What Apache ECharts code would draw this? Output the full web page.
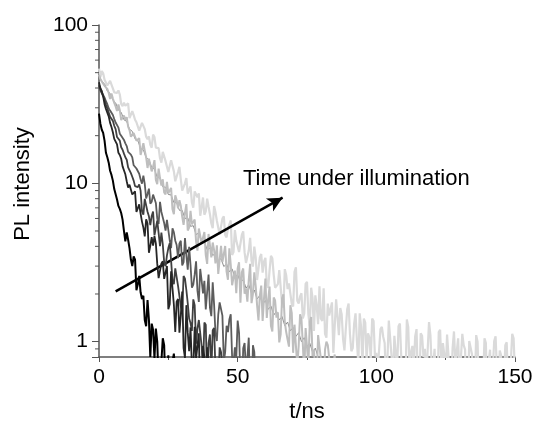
<!DOCTYPE html>
<html>
<head>
<meta charset="utf-8">
<script src="https://cdn.jsdelivr.net/npm/echarts@6/dist/echarts.min.js"></script>
<style>
html,body{margin:0;padding:0;background:#fff;}
#chart{width:536px;height:428px;}
</style>
</head>
<body>
<div id="chart"></div>
<script>
// time channels (ns), 0.5 ns bins
const times = [0,0.5,1,1.5,2,2.5,3,3.5,4,4.5,5,5.5,6,6.5,7,7.5,8,8.5,9,9.5,10,10.5,11,11.5,12,12.5,13,13.5,14,14.5,15,15.5,16,16.5,17,17.5,18,18.5,19,19.5,20,20.5,21,21.5,22,22.5,23,23.5,24,24.5,25,25.5,26,26.5,27,27.5,28,28.5,29,29.5,30,30.5,31,31.5,32,32.5,33,33.5,34,34.5,35,35.5,36,36.5,37,37.5,38,38.5,39,39.5,40,40.5,41,41.5,42,42.5,43,43.5,44,44.5,45,45.5,46,46.5,47,47.5,48,48.5,49,49.5,50,50.5,51,51.5,52,52.5,53,53.5,54,54.5,55,55.5,56,56.5,57,57.5,58,58.5,59,59.5,60,60.5,61,61.5,62,62.5,63,63.5,64,64.5,65,65.5,66,66.5,67,67.5,68,68.5,69,69.5,70,70.5,71,71.5,72,72.5,73,73.5,74,74.5,75,75.5,76,76.5,77,77.5,78,78.5,79,79.5,80,80.5,81,81.5,82,82.5,83,83.5,84,84.5,85,85.5,86,86.5,87,87.5,88,88.5,89,89.5,90,90.5,91,91.5,92,92.5,93,93.5,94,94.5,95,95.5,96,96.5,97,97.5,98,98.5,99,99.5,100,100.5,101,101.5,102,102.5,103,103.5,104,104.5,105,105.5,106,106.5,107,107.5,108,108.5,109,109.5,110,110.5,111,111.5,112,112.5,113,113.5,114,114.5,115,115.5,116,116.5,117,117.5,118,118.5,119,119.5,120,120.5,121,121.5,122,122.5,123,123.5,124,124.5,125,125.5,126,126.5,127,127.5,128,128.5,129,129.5,130,130.5,131,131.5,132,132.5,133,133.5,134,134.5,135,135.5,136,136.5,137,137.5,138,138.5,139,139.5,140,140.5,141,141.5,142,142.5,143,143.5,144,144.5,145,145.5,146,146.5,147,147.5,148,148.5,149,149.5,150];
// 1 ns channels for the thin guide trace
const timesCoarse = [0,1,2,3,4,5,6,7,8,9,10,11,12,13,14,15,16,17,18,19,20,21,22,23,24,25,26,27,28,29,30,31,32,33,34,35,36,37,38,39,40,41,42,43,44,45,46,47,48,49,50,51,52,53,54,55,56,57,58,59,60,61,62,63,64,65,66,67,68,69,70,71,72,73,74,75,76,77,78,79];

// PL decay traces, shortest illumination (black) to longest (lightest)
const trace1 = [27.6,23.8,21.8,20.8,18.6,15.6,14.6,13.5,12.0,11.3,10.4,9.2,9.0,7.9,7.2,6.9,6.5,5.9,5.0,4.3,4.9,4.4,3.9,3.3,3.0,3.45,3.3,2.11,2.3,2.6,2.05,1.86,1.95,1.37,1.25,1.83,1.38,0.80,1.3,1.19,0.78,1.21,1.0,0.55,0.72,0.75,1.05,0.95,0.48,0.48,0.82,0.35,0.5,0.75,0.84,0.62,0.3];
const trace2 = [43.5,39.7,38.3,35.4,31.6,29.5,28.8,26.5,24.1,22.7,21.0,19.1,18.9,17.6,15.6,15.1,14.3,12.8,12.6,11.4,10.3,9.4,9.8,9.9,8.5,8.44,8.9,6.6,6.5,7.36,6.44,5.73,5.25,4.62,5.92,5.6,3.64,4.03,4.57,4.04,4.64,4.17,3.11,2.52,2.45,3.12,3.22,2.49,2.45,3.0,1.6,1.72,2.78,2.17,1.71,1.15,1.79,1.86,1.14,1.47,2.07,0.91,0.79,1.7,1.14,0.87,1.23,0.70,0.66,1.24,0.78,0.79,1.13,0.42,0.35,0.94,0.80,0.57,0.92,0.75,0.47,0.35,0.66];
const trace3 = [41.5,38.7,38.2,35.6,33.8,31.5,31.0,28.0,26.3,26.0,24.8,23.1,22.0,19.6,19.2,18.6,16.9,16.3,15.4,14.6,14.1,12.6,12.4,11.6,11.0,10.4,9.6,9.8,9.46,9.84,8.99,6.66,6.35,7.97,7.87,6.62,6.19,5.44,6.22,6.63,4.69,4.68,5.82,4.85,4.01,4.88,4.11,3.18,2.99,3.51,3.9,4.18,3.25,2.43,2.31,2.9,2.97,2.25,2.23,1.67,1.55,2.6,2.5,2.12,1.75,1.4,1.31,1.17,1.85,1.7,0.97,1.21,1.37,1.35,0.94,0.66,1.32,1.28,0.55,0.98,1.11,0.64,1.18,1.22,0.67,0.47,0.52,0.92,0.86,0.71,0.63,0.44,0.36];
const trace4 = [42.0,40.0,37.6,36.6,34.8,33.0,31.6,29.8,28.8,28.0,27.0,25.5,24.2,23.6,22.5,20.6,20.0,19.9,18.8,17.9,17.2,15.8,15.4,15.2,14.6,13.0,12.8,12.4,12.1,11.5,10.6,9.96,11.2,9.9,8.03,8.56,9.25,7.43,7.65,8.49,8.28,7.52,6.0,5.53,7.63,6.6,6.09,5.61,5.03,5.87,5.74,4.37,3.9,5.2,4.9,4.34,4.08,3.37,4.18,4.34,3.03,3.18,4.51,3.51,2.85,3.97,3.06,2.19,2.29,2.66,3.22,2.1,1.78,2.88,2.44,2.02,2.42,1.6,1.61,2.65,1.64,1.45,2.37,1.72,1.13,1.01,1.48,1.77,1.72,1.46,0.75,0.86,1.26,1.15,1.38,1.49,0.80,0.73,0.92,0.79,1.36,1.14,0.58,0.44,0.91,0.98,0.65,0.79,1.06,0.48,0.39,0.95,0.86,0.54,0.70,0.62,0.43];
const trace5 = [47.5,44.0,42.5,38.3,37.0,33.5,32.2,29.0,28.1,25.2,24.6,22.0,21.3,19.1,18.6,16.7,16.3,14.5,14.1,12.6,12.3,10.9,10.8,9.5,9.45,8.5,8.45,7.55,7.55,6.75,6.75,6.0,6.05,5.35,5.4,4.75,4.85,4.25,4.3,3.8,3.9,3.5,3.62,3.23,3.35,2.98,3.1,2.76,2.88,2.55,2.66,2.36,2.47,2.18,2.29,2.02,2.12,1.86,1.96,1.72,1.82,1.6,1.68,1.47,1.56,1.37,1.44,1.26,1.33,1.17,1.23,1.08,1.14,1.0,1.06,0.93,0.98,0.86,0.91,0.8];
const trace6 = [48.5,45.5,45.0,42.6,41.3,41.0,39.5,37.2,34.1,36.9,34.3,32.2,30.6,28.6,31.5,29.0,25.1,25.8,26.8,25.2,26.2,22.8,21.7,19.7,19.3,20.8,20.8,18.6,18.2,19.3,15.1,15.3,17.9,16.1,14.6,12.5,14.3,14.2,11.9,12.7,14.0,10.5,9.88,12.4,10.8,9.67,10.6,8.77,8.51,10.2,8.66,8.57,9.36,6.85,6.39,8.39,7.84,6.94,7.82,7.21,6.16,5.47,6.5,7.4,5.04,5.25,6.7,5.51,5.36,5.9,4.3,3.76,5.18,5.04,4.18,4.23,4.92,3.52,3.1,4.79,4.07,3.41,4.23,3.8,3.12,4.06,2.68,2.7,4.03,3.18,3.17,4.02,2.77,2.46,3.89,3.07,2.27,2.54,2.81,2.02,2.9,3.17,1.76,2.74,2.9,2.01,2.17,1.79,2.46,3.1,1.75,2.0,2.74,2.25,1.70,1.36,1.96,2.26,1.35,1.88,2.5,1.41,1.83,2.23,1.26,1.16,1.9,1.82,1.42,1.53,0.99,1.11,1.88,1.99,1.33,1.15,1.03,0.93,1.7,1.52,0.85,1.28,1.3,0.70,0.94,1.49,1.39,0.96,0.62,1.22,1.23,0.70,1.33,1.43,0.81,0.89,0.64,0.57,1.1,1.12,0.78,0.65,0.48,0.89,1.0,0.95,0.79,0.43,0.47,0.71,0.83,0.51,0.52];
const trace7 = [53.0,47.0,51.2,49.5,45.1,45.2,41.5,41.2,44.4,43.5,39.8,37.5,36.6,37.2,38.6,36.4,31.7,30.7,32.3,30.9,31.2,32.0,25.8,26.1,28.6,27.0,25.2,24.3,25.0,21.5,21.6,24.1,23.7,22.0,19.7,19.0,19.8,17.5,16.8,20.3,19.6,16.8,17.0,16.7,14.4,13.5,15.8,15.5,13.8,13.9,11.8,12.0,14.0,13.6,11.9,10.3,10.5,11.8,12.7,10.6,9.0,8.99,10.0,10.8,8.61,8.49,9.57,7.59,7.01,8.9,8.66,8.15,8.65,6.24,7.05,8.14,6.33,6.66,8.01,7.11,6.38,5.58,5.21,7.18,6.57,5.8,5.87,4.75,4.7,5.99,6.18,4.72,4.56,5.2,5.16,5.83,3.53,3.68,5.07,4.35,4.31,3.68,3.59,4.72,4.98,3.66,3.14,3.12,3.76,4.53,3.24,2.98,3.98,3.41,2.45,2.4,3.41,3.58,2.73,3.2,3.38,2.3,2.19,2.82,3.48,3.36,2.64,2.19,2.15,2.31,2.83,2.89,1.74,1.64,2.87,2.63,2.15,2.33,2.38,1.73,1.67,2.76,2.95,1.81,1.74,1.93,2.02,1.4,1.5,2.32,2.39,1.48,1.25,2.19,1.89,1.17,1.96,1.69,1.29,2.24,1.4,1.35,2.17,1.12,1.06,1.74,1.46,1.44,1.77,0.85,0.84,1.85,1.43,1.1,1.63,1.49,1.04,0.88,1.21,1.6,1.74,1.11,0.87,0.91,1.3,1.51,1.01,0.72,1.51,1.24,0.70,1.4,1.32,0.76,1.13,1.06,0.77,1.4,1.35,0.81,0.85,0.66,0.67,1.2,1.24,1.07,0.98,0.56,0.77,1.36,1.4,0.80,0.54,1.09,1.08,0.67,1.25,1.3,0.79,0.81,0.62,0.56,1.38,1.24,0.66,0.86,0.94,0.67,1.08,1.2,0.53,0.50,1.13,1.09,0.80,0.9,0.58,0.58,1.33,1.1,0.66,0.71,0.90,0.53,0.42,1.15,1.19,0.65,0.98,0.83,0.61,1.11,0.83,0.48,0.50,0.91,1.16,0.72,0.70,1.05,0.56,0.55,1.12,0.95,0.89,0.42,0.45,1.01,1.01,0.83,0.64,0.51,1.1,1.0,0.50,0.63,0.74,0.55,1.05,0.98,0.42,0.75,0.89,0.43,0.68,1.01,1.08,0.65,0.47,0.88,0.82,0.45,0.56,0.95,0.99,0.56,0.37,0.75,1.12,1.05,0.61];

const traces = [trace7, trace5, trace6, trace4, trace3, trace2, trace1];
const traceTimes = [times, timesCoarse, times, times, times, times, times];
const traceColors = ['#dadada', '#8c8c8c', '#bebebe', '#5c5c5c', '#404040', '#262626', '#000000'];
const traceWidths = [2.2, 1.0, 2.0, 1.8, 1.8, 1.8, 2.0];

// tick values / labels
const xTicks = [0, 50, 100, 150];
const yMajor = [1, 10, 100];
const yMinorTicks = [0.9, 2, 3, 4, 5, 6, 7, 8, 9, 20, 30, 40, 50, 60, 70, 80, 90];

// annotation arrow (data coordinates)
const arrowStart = [6.0, 2.08];
const arrowEnd = [66.2, 8.12];
const annotationText = 'Time under illumination';

const FONT = 'Liberation Sans, Arial, sans-serif';

const chart = echarts.init(document.getElementById('chart'), null, {renderer: 'canvas'});

const series = traces.map((vals, k) => ({
  type: 'line',
  data: vals.map((v, i) => [traceTimes[k][i], v]),
  showSymbol: false,
  symbol: 'none',
  clip: true,
  silent: true,
  animation: false,
  lineStyle: {color: traceColors[k], width: traceWidths[k]},
  z: 2 + k
}));

// arrow on the last (black) series
series[series.length - 1].markLine = {
  silent: true,
  animation: false,
  symbol: ['none', 'arrow'],
  symbolSize: [11, 15],
  label: {show: false},
  lineStyle: {color: '#000', width: 2.5, type: 'solid'},
  emphasis: {disabled: true},
  data: [[{coord: arrowStart}, {coord: arrowEnd}]]
};

// minor ticks on the log axis
series.push({
  type: 'custom',
  coordinateSystem: 'cartesian2d',
  silent: true,
  clip: false,
  animation: false,
  z: 20,
  data: yMinorTicks.map(v => [0, v]),
  renderItem: function (params, api) {
    const p = api.coord([api.value(0), api.value(1)]);
    return {
      type: 'line',
      shape: {x1: p[0] - 4, y1: p[1], x2: p[0], y2: p[1]},
      style: {stroke: '#555', lineWidth: 1}
    };
  }
});

const option = {
  animation: false,
  backgroundColor: '#fff',
  grid: {left: 99, right: 21, top: 25, bottom: 66, containLabel: false},
  xAxis: {
    type: 'value',
    min: xTicks[0],
    max: xTicks[xTicks.length - 1],
    interval: 50,
    name: 't/ns',
    nameLocation: 'middle',
    nameGap: 44,
    nameTextStyle: {fontFamily: FONT, fontSize: 22, color: '#000'},
    axisLine: {show: true, onZero: false, lineStyle: {color: '#555', width: 1.5}},
    axisTick: {show: true, inside: false, length: 5, lineStyle: {color: '#555', width: 1}},
    minorTick: {show: true, splitNumber: 2, length: 3, lineStyle: {color: '#555', width: 1}},
    axisLabel: {fontFamily: FONT, fontSize: 21, color: '#000', margin: 10},
    splitLine: {show: false}
  },
  yAxis: {
    type: 'log',
    logBase: 10,
    min: 0.8,
    max: yMajor[yMajor.length - 1],
    name: 'PL intensity',
    nameLocation: 'middle',
    nameRotate: 90,
    nameGap: 76,
    nameTextStyle: {fontFamily: FONT, fontSize: 22, color: '#000', align: 'center', verticalAlign: 'middle', padding: [0, 0, 0, 14]},
    axisLine: {show: true, onZero: false, lineStyle: {color: '#555', width: 1.5}},
    axisTick: {show: true, inside: false, length: 7, lineStyle: {color: '#555', width: 1}},
    axisLabel: {
      fontFamily: FONT, fontSize: 21, color: '#000', margin: 11,
      formatter: function (v) {
        for (const m of yMajor) { if (Math.abs(v - m) / m < 1e-6) return String(m); }
        return '';
      }
    },
    splitLine: {show: false}
  },
  graphic: [{
    type: 'text',
    left: 243,
    top: 168,
    silent: true,
    style: {text: annotationText, font: '22px ' + FONT, fill: '#000'}
  }],
  series: series
};

chart.setOption(option);
</script>
</body>
</html>
